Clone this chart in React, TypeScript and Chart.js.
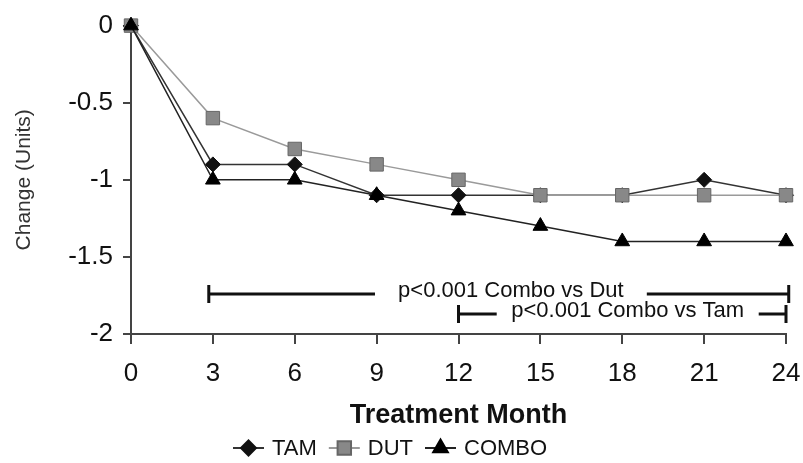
import React, { useEffect, useRef } from "react";
import { Chart, registerables } from "chart.js";
import { drawPoint } from "chart.js/helpers";

Chart.register(...registerables);

const months = [0, 3, 6, 9, 12, 15, 18, 21, 24];
const tamValues = [0, -0.9, -0.9, -1.1, -1.1, -1.1, -1.1, -1.0, -1.1];
const dutValues = [0, -0.6, -0.8, -0.9, -1.0, -1.1, -1.1, -1.1, -1.1];
const comboValues = [0, -1.0, -1.0, -1.1, -1.2, -1.3, -1.4, -1.4, -1.4];
const seriesNames = ["TAM", "DUT", "COMBO"];

const bracketLabels = ["p<0.001 Combo vs Dut", "p<0.001 Combo vs Tam"];
const bracketStart = [2.85, 12];
const bracketEnd = [24.1, 24];
const bracketY = [-1.74, -1.87];
const bracketGapFrom = [8.94, 13.4];
const bracketGapTo = [18.9, 23.0];

const FONT = "'Liberation Sans', Arial, sans-serif";

const bracketPlugin = {
  id: "brackets",
  afterDatasetsDraw(chart: any) {
    const ctx = chart.ctx;
    const xs = chart.scales.x;
    const ys = chart.scales.y;
    ctx.save();
    ctx.strokeStyle = "#111";
    ctx.fillStyle = "#111";
    ctx.lineWidth = 3;
    ctx.font = `22px ${FONT}`;
    ctx.textAlign = "center";
    ctx.textBaseline = "middle";
    for (let i = 0; i < bracketLabels.length; i++) {
      const x0 = xs.getPixelForValue(bracketStart[i]);
      const x1 = xs.getPixelForValue(bracketEnd[i]);
      const g0 = xs.getPixelForValue(bracketGapFrom[i]);
      const g1 = xs.getPixelForValue(bracketGapTo[i]);
      const y = ys.getPixelForValue(bracketY[i]);
      ctx.beginPath();
      ctx.moveTo(x0, y);
      ctx.lineTo(g0, y);
      ctx.moveTo(g1, y);
      ctx.lineTo(x1, y);
      ctx.moveTo(x0, y - 9);
      ctx.lineTo(x0, y + 9);
      ctx.moveTo(x1, y - 9);
      ctx.lineTo(x1, y + 9);
      ctx.stroke();
      ctx.fillText(bracketLabels[i], (g0 + g1) / 2, y - 3);
    }
    ctx.restore();
  },
  afterDraw(chart: any) {
    const ctx = chart.ctx;
    ctx.save();
    ctx.font = `22px ${FONT}`;
    ctx.textBaseline = "middle";
    ctx.textAlign = "left";
    let x = 233;
    const y = 448;
    chart.data.datasets.forEach((ds: any) => {
      ctx.strokeStyle = ds.borderColor;
      ctx.lineWidth = 2;
      ctx.beginPath();
      ctx.moveTo(x, y);
      ctx.lineTo(x + 31, y);
      ctx.stroke();
      ctx.fillStyle = ds.pointBackgroundColor;
      ctx.strokeStyle = ds.pointBorderColor;
      drawPoint(
        ctx,
        {
          pointStyle: ds.pointStyle,
          radius: ds.pointRadius,
          borderWidth: ds.pointBorderWidth,
          rotation: 0,
        } as any,
        x + 15.5,
        y
      );
      ctx.fillStyle = "#111";
      ctx.fillText(ds.label, x + 39, y + 1);
      x = x + 39 + ctx.measureText(ds.label).width + 12;
    });
    ctx.restore();
  },
};

export default function App() {
  const canvasRef = useRef<HTMLCanvasElement | null>(null);

  useEffect(() => {
    document.body.style.margin = "0";
    const canvas = canvasRef.current;
    if (!canvas) return;
    const toPts = (vals: number[]) => months.map((m, i) => ({ x: m, y: vals[i] }));
    const chart = new Chart(canvas, {
      type: "line",
      data: {
        datasets: [
          {
            label: seriesNames[0],
            data: toPts(tamValues),
            borderColor: "#333",
            borderWidth: 1.5,
            pointStyle: "rectRot",
            pointRadius: 7.5,
            pointBackgroundColor: "#111",
            pointBorderColor: "#111",
            pointBorderWidth: 1,
            order: 3,
            clip: false,
          },
          {
            label: seriesNames[1],
            data: toPts(dutValues),
            borderColor: "#9a9a9a",
            borderWidth: 1.5,
            pointStyle: "rect",
            pointRadius: 9.5,
            pointBackgroundColor: "#888",
            pointBorderColor: "#666",
            pointBorderWidth: 1,
            order: 2,
            clip: false,
          },
          {
            label: seriesNames[2],
            data: toPts(comboValues),
            borderColor: "#222",
            borderWidth: 1.5,
            pointStyle: "triangle",
            pointRadius: 8.5,
            pointBackgroundColor: "#000",
            pointBorderColor: "#000",
            pointBorderWidth: 1,
            order: 1,
            clip: false,
          },
        ] as any,
      },
      options: {
        animation: false,
        responsive: true,
        maintainAspectRatio: false,
        layout: { padding: { top: 22, right: 17, left: 0, bottom: 0 } },
        plugins: {
          legend: { display: false },
          tooltip: { enabled: false },
        },
        scales: {
          x: {
            type: "linear",
            min: 0,
            max: 24,
            afterFit: (s: any) => {
              s.height = 129;
              s.paddingRight = 0;
              s.paddingLeft = 0;
            },
            ticks: {
              stepSize: 3,
              padding: 14,
              color: "#111",
              font: { family: FONT, size: 26 },
              maxRotation: 0,
            },
            grid: {
              display: true,
              drawOnChartArea: false,
              drawTicks: true,
              tickLength: 10,
              color: "#444",
              lineWidth: 2,
            },
            border: { display: true, color: "#444", width: 2 },
            title: {
              display: true,
              text: "Treatment Month",
              color: "#111",
              font: { family: FONT, size: 27, weight: "bold" },
              padding: { top: 4, bottom: 31 },
            },
          },
          y: {
            type: "linear",
            min: -2,
            max: 0,
            afterFit: (s: any) => {
              s.width = 131;
            },
            ticks: {
              stepSize: 0.5,
              padding: 10,
              color: "#111",
              font: { family: FONT, size: 26 },
              callback: (v: any) => String(v),
            },
            grid: {
              display: true,
              drawOnChartArea: false,
              drawTicks: true,
              tickLength: 8,
              color: "#444",
              lineWidth: 2,
            },
            border: { display: true, color: "#444", width: 2 },
            title: {
              display: true,
              text: "Change (Units)",
              color: "#333",
              font: { family: FONT, size: 21 },
              padding: { top: 12, bottom: 0 },
            },
          },
        },
      },
      plugins: [bracketPlugin],
    });
    return () => chart.destroy();
  }, []);

  return (
    <div style={{ position: "relative", width: 803, height: 463 }}>
      <canvas ref={canvasRef} />
    </div>
  );
}
